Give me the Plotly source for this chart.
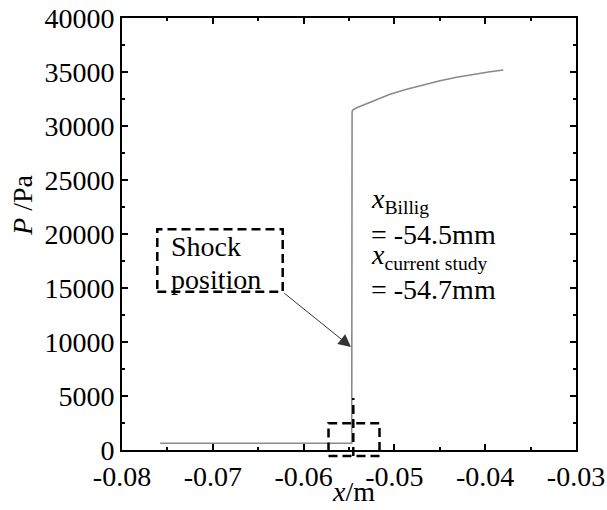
import plotly.graph_objects as go

# ---- data ----
x_m = [-0.0758, -0.0700, -0.0650, -0.0600, -0.0570, -0.05470, -0.05466,
       -0.05459, -0.05415, -0.05324, -0.05232, -0.05048, -0.04865, -0.04682,
       -0.04498, -0.04314, -0.04131, -0.03947, -0.03801]
p_pa = [620, 620, 620, 620, 620, 620, 31300,
        31482, 31694, 32009, 32314, 32935, 33398, 33823,
        34194, 34508, 34787, 35028, 35185]

x_tickvals = [-0.08, -0.07, -0.06, -0.05, -0.04, -0.03]
x_ticktext = ["-0.08", "-0.07", "-0.06", "-0.05", "-0.04", "-0.03"]
y_tickvals = [0, 5000, 10000, 15000, 20000, 25000, 30000, 35000, 40000]
y_ticktext = ["0", "5000", "10000", "15000", "20000", "25000", "30000", "35000", "40000"]

FONT = "Liberation Serif, Times New Roman, serif"
FS = 28

fig = go.Figure()
fig.add_trace(go.Scatter(x=x_m, y=p_pa, mode="lines",
                         line=dict(color="#8a8a8a", width=1.6),
                         showlegend=False, hoverinfo="skip"))

axis_common = dict(showline=True, linewidth=2, linecolor="black", mirror="allticks",
                   ticks="inside", ticklen=6, tickwidth=1.5, tickcolor="black",
                   showgrid=False, zeroline=False, automargin=False,
                   tickfont=dict(family=FONT, size=FS, color="black"))

fig.update_xaxes(range=[-0.08, -0.03], tickmode="array", tickvals=x_tickvals,
                 ticktext=x_ticktext,
                 minor=dict(ticks="inside", ticklen=3, tickwidth=1.5, tickcolor="black",
                            dtick=0.005, tick0=-0.08, showgrid=False),
                 **axis_common)
fig.update_yaxes(range=[0, 40000], tickmode="array", tickvals=y_tickvals,
                 ticktext=y_ticktext,
                 minor=dict(ticks="inside", ticklen=3, tickwidth=1.5, tickcolor="black",
                            dtick=2500, tick0=0, showgrid=False),
                 **axis_common)

tf = dict(family=FONT, size=FS, color="black")
ann = []
# axis titles
ann.append(dict(text="<i>P</i> /Pa", xref="paper", yref="paper", x=-0.218, y=0.565,
                textangle=-90, showarrow=False, font=tf, xanchor="center", yanchor="middle"))
ann.append(dict(text="<i>x</i>/m", xref="paper", yref="paper", x=0.511, y=-0.097,
                showarrow=False, font=tf, xanchor="center", yanchor="middle"))
# shock position label
ann.append(dict(text="Shock", xref="x", yref="y", x=-0.0748, y=18889,
                showarrow=False, font=tf, xanchor="left", yanchor="middle"))
ann.append(dict(text="position", xref="x", yref="y", x=-0.0748, y=15833,
                showarrow=False, font=tf, xanchor="left", yanchor="middle"))
# arrow
ann.append(dict(text="", xref="x", yref="y", x=-0.05478, y=9537,
                axref="x", ayref="y", ax=-0.06229, ay=14630,
                showarrow=True, arrowhead=2, arrowsize=2.5, arrowwidth=1,
                arrowcolor="#333333"))
# position texts
ann.append(dict(text="<i>x</i><sub>Billig</sub>", xref="x", yref="y", x=-0.05275, y=23100,
                showarrow=False, font=tf, xanchor="left", yanchor="middle"))
ann.append(dict(text="= -54.5mm", xref="x", yref="y", x=-0.05275, y=20000,
                showarrow=False, font=tf, xanchor="left", yanchor="middle"))
ann.append(dict(text="<i>x</i><sub>current study</sub>", xref="x", yref="y", x=-0.05275, y=17900,
                showarrow=False, font=tf, xanchor="left", yanchor="middle"))
ann.append(dict(text="= -54.7mm", xref="x", yref="y", x=-0.05275, y=14907,
                showarrow=False, font=tf, xanchor="left", yanchor="middle"))

dash = dict(color="black", width=2.5, dash="9px,5px")
shapes = [
    dict(type="rect", xref="paper", yref="paper",
         x0=(157.3 - 122) / 454, x1=(282.7 - 122) / 454,
         y0=(450 - 291.7) / 432, y1=(450 - 229.3) / 432, line=dash),
    dict(type="rect", xref="paper", yref="paper",
         x0=(328.5 - 122) / 454, x1=(379.5 - 122) / 454,
         y0=(450 - 456) / 432, y1=(450 - 423.3) / 432, line=dash),
    dict(type="line", xref="paper", yref="paper",
         x0=(353.3 - 122) / 454, x1=(353.3 - 122) / 454,
         y0=(450 - 456) / 432, y1=(450 - 398) / 432, line=dash),
]

fig.update_layout(width=607, height=510, margin=dict(l=122, r=31, t=18, b=60),
                  paper_bgcolor="white", plot_bgcolor="white",
                  annotations=ann, shapes=shapes,
                  font=dict(family=FONT, size=FS, color="black"))

fig.write_html("out.html")
